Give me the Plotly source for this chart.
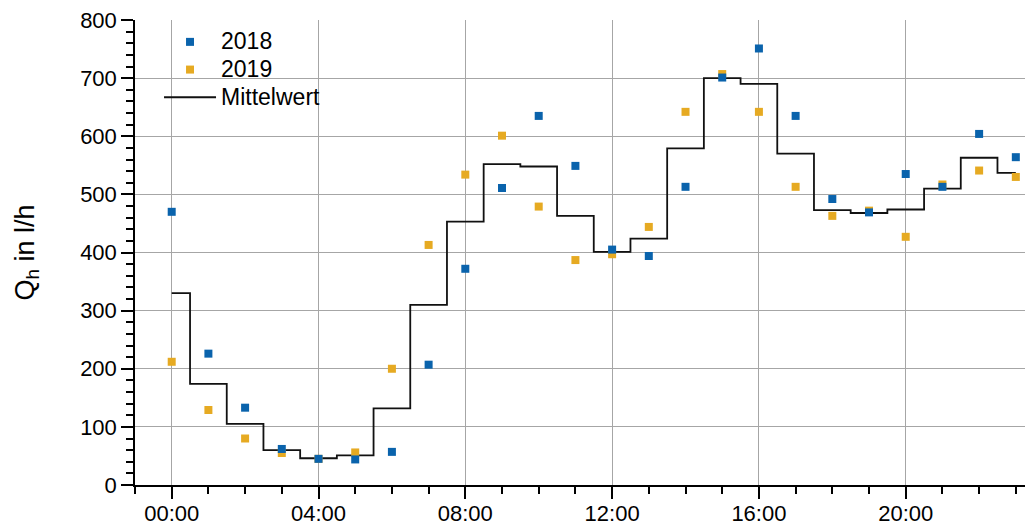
import plotly.graph_objects as go

# Hourly flow rate Q_h (l/h) for each hour of the day
hours = list(range(24))
q_2018 = [470, 226, 133, 62, 45, 44, 57, 207, 372, 511, 635, 549,
          405, 394, 513, 701, 751, 635, 492, 469, 535, 513, 604, 564]
q_2019 = [212, 129, 80, 55, 45, 56, 200, 413, 534, 601, 479, 387,
          397, 444, 642, 707, 642, 513, 463, 472, 427, 517, 541, 530]
q_mean = [330, 174, 105, 60, 46, 51, 132, 310, 453, 552, 548, 463,
          401, 424, 579, 700, 690, 570, 473, 468, 474, 510, 563, 537]

tick_hours = [0, 4, 8, 12, 16, 20]
tick_labels = ["00:00", "04:00", "08:00", "12:00", "16:00", "20:00"]

BLUE = "#0A63AC"
YELLOW = "#E6AA22"
FONT = "Liberation Sans, Arial, sans-serif"


def legend_label(text):
    # larger glyphs than the legend's base size keeps the rows compact
    return f"<span style='font-size:23px'>{text}</span>"


fig = go.Figure()
fig.add_trace(go.Scatter(
    x=hours, y=q_mean, name=legend_label("Mittelwert"), mode="lines",
    line=dict(color="#111111", width=1.8, shape="hvh"),
))
fig.add_trace(go.Scatter(
    x=hours, y=q_2019, name=legend_label("2019"), mode="markers",
    marker=dict(symbol="square", size=8, color=YELLOW),
))
fig.add_trace(go.Scatter(
    x=hours, y=q_2018, name=legend_label("2018"), mode="markers",
    marker=dict(symbol="square", size=8, color=BLUE),
))

fig.update_layout(
    width=1025, height=528,
    margin=dict(l=135, r=0, t=20, b=43),
    paper_bgcolor="white", plot_bgcolor="white",
    font=dict(family=FONT, size=22, color="black"),
    showlegend=True,
    legend=dict(
        x=0.027, y=0.9935, xanchor="left", yanchor="top",
        traceorder="reversed", bgcolor="rgba(0,0,0,0)",
        itemwidth=52, tracegroupgap=0,
        font=dict(family=FONT, size=19, color="black"),
    ),
)

fig.update_xaxes(
    range=[-1, 23.25], automargin=False,
    tickmode="array", tickvals=tick_hours, ticktext=tick_labels,
    ticks="outside", ticklen=12, tickwidth=1.5, tickcolor="black",
    showline=True, linecolor="black", linewidth=1.5,
    showgrid=True, gridcolor="#a6a6a6", gridwidth=1,
    zeroline=False, ticklabelstandoff=-4,
    minor=dict(tickmode="array", tickvals=list(range(-1, 24)),
               ticks="outside", ticklen=7, tickwidth=1.5,
               tickcolor="black", showgrid=False),
)
fig.update_yaxes(
    range=[0, 800], automargin=False, tick0=0, dtick=100,
    ticks="outside", ticklen=12, tickwidth=1.5, tickcolor="black",
    showline=True, linecolor="black", linewidth=1.5,
    showgrid=True, gridcolor="#a6a6a6", gridwidth=1,
    zeroline=False,
    minor=dict(dtick=20, ticks="outside", ticklen=7, tickwidth=1.5,
               tickcolor="black", showgrid=False),
    title=dict(text="Q<sub>h</sub> in l/h", font=dict(family=FONT, size=27),
               standoff=38),
)

fig.write_html("out.html")
